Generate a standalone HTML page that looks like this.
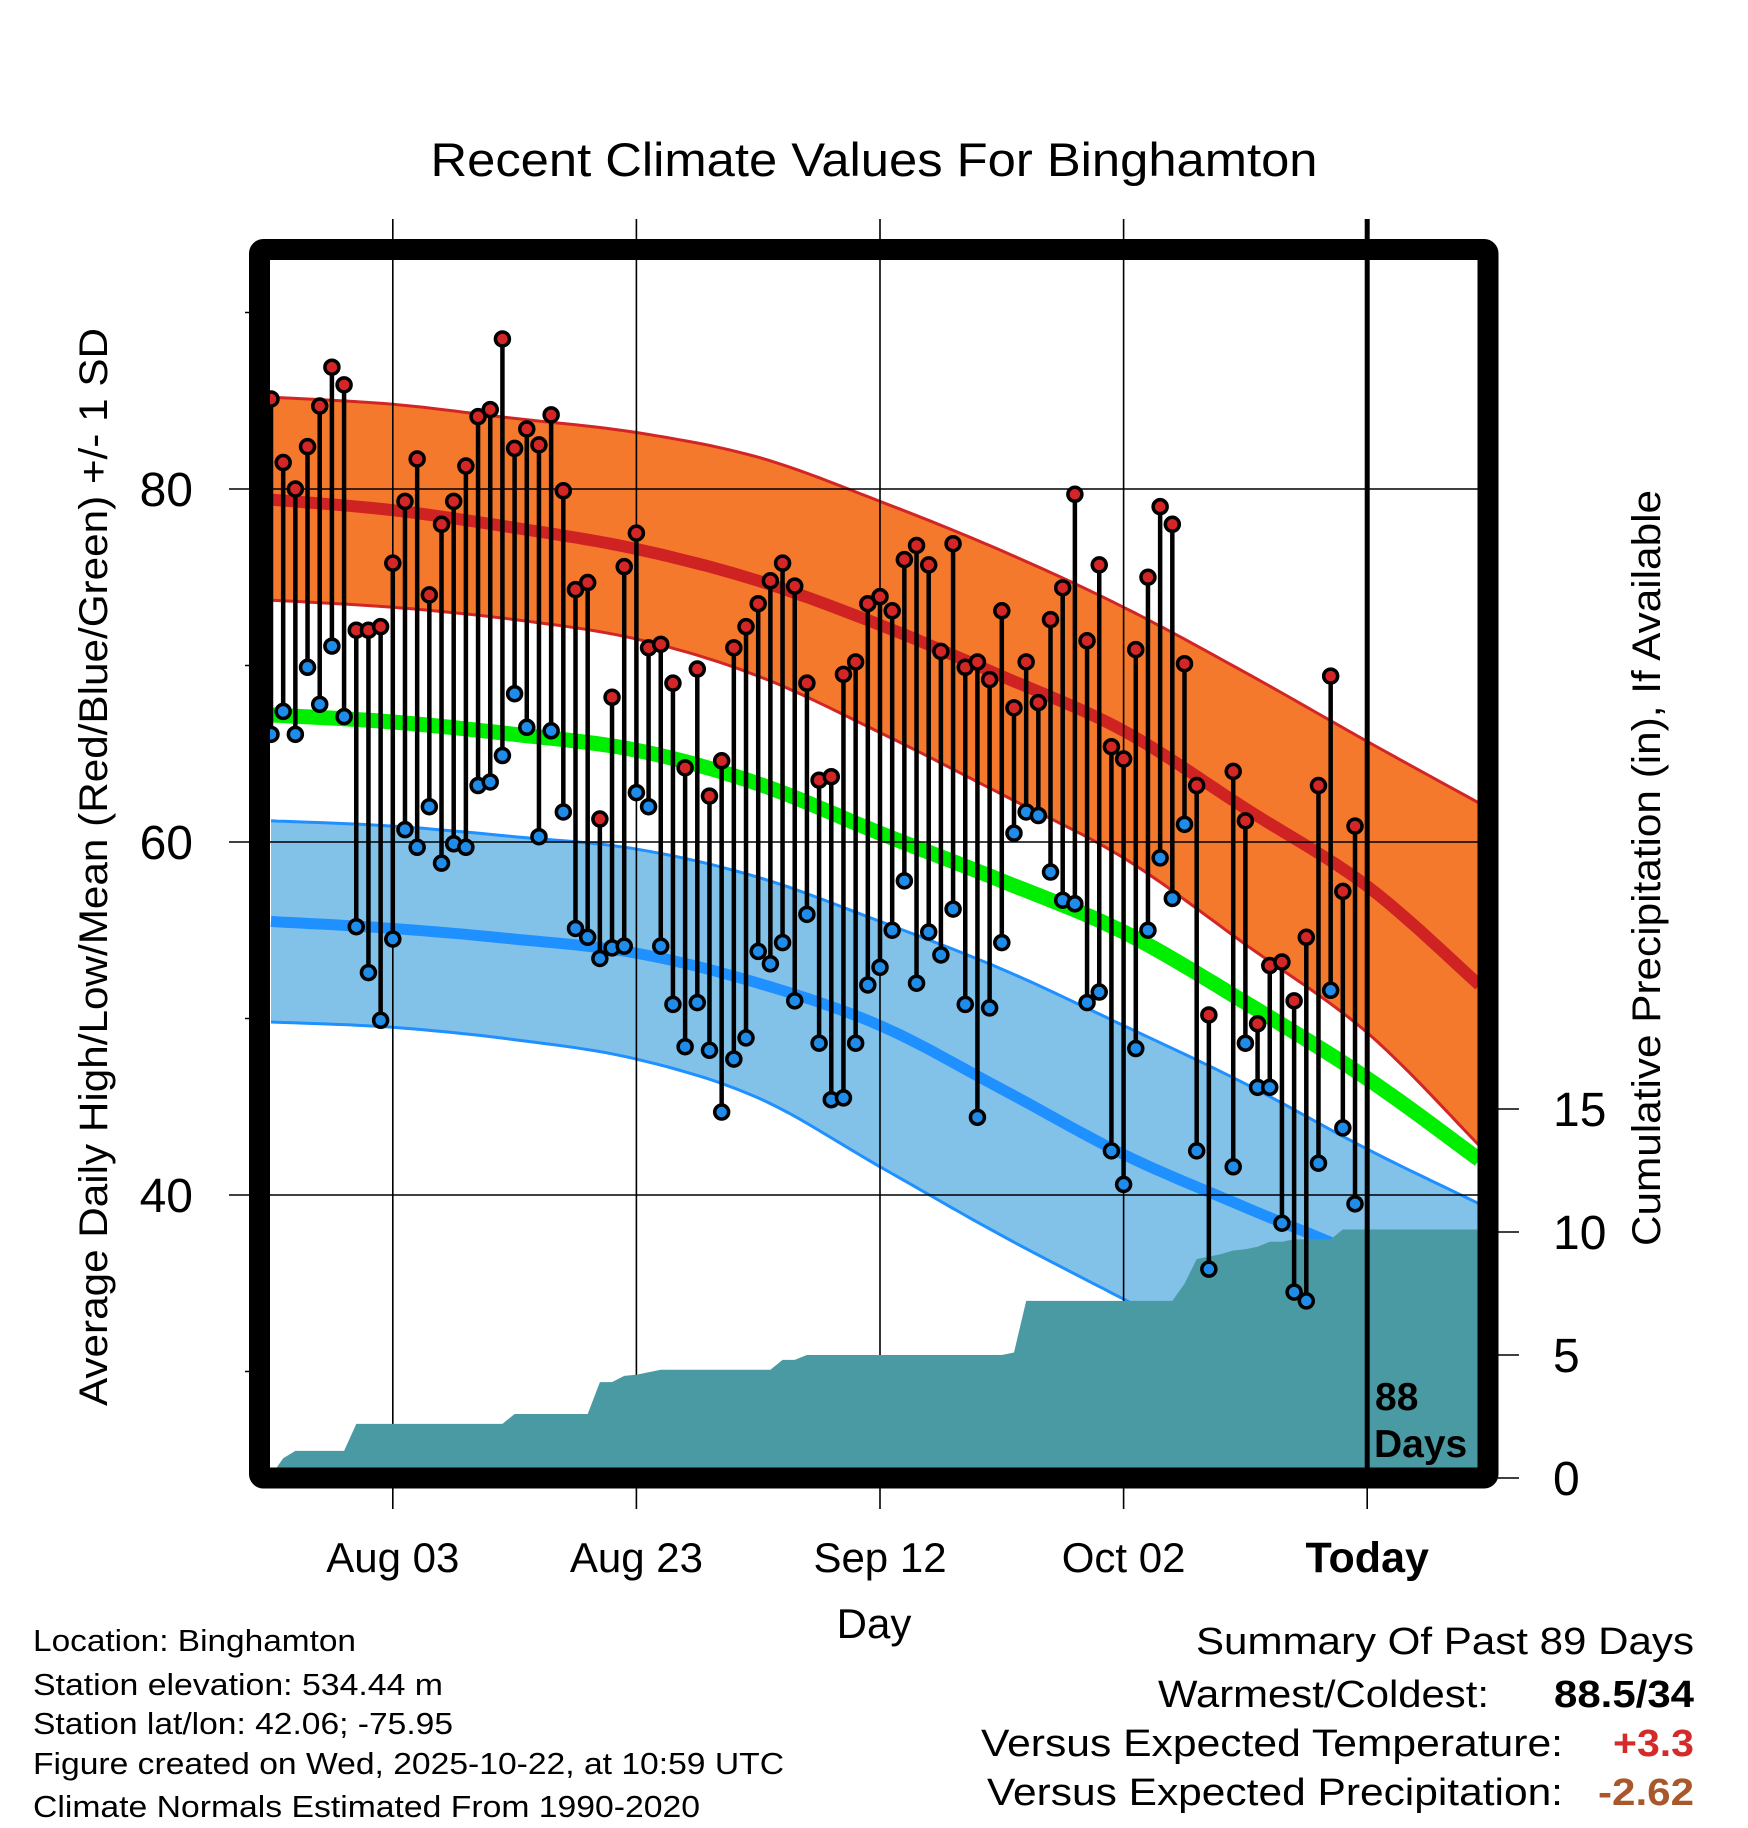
<!DOCTYPE html>
<html><head><meta charset="utf-8">
<style>
html,body{margin:0;padding:0;background:#fff;}
svg{display:block;font-family:"Liberation Sans",Arial,sans-serif;}
</style></head>
<body>
<svg id="chart" width="1748" height="1828" viewBox="0 0 1748 1828" xmlns="http://www.w3.org/2000/svg">
<defs><clipPath id="plotclip"><rect x="270" y="260" width="1208" height="1208"/></clipPath></defs>
<text x="874" y="176" text-anchor="middle" font-size="47" textLength="887" lengthAdjust="spacingAndGlyphs">Recent Climate Values For Binghamton</text>
<g id="bands" clip-path="url(#plotclip)"></g>
<g id="grid"></g>
<g id="precip" clip-path="url(#plotclip)"></g>
<g id="points"></g>
<g id="axes"></g>
<text transform="translate(107,867) rotate(-90)" text-anchor="middle" font-size="40" textLength="1078" lengthAdjust="spacingAndGlyphs">Average Daily High/Low/Mean (Red/Blue/Green) +/- 1 SD</text>
<text transform="translate(1660,868) rotate(-90)" text-anchor="middle" font-size="40" textLength="756" lengthAdjust="spacingAndGlyphs">Cumulative Precipitation (in), If Available</text>
<text x="874" y="1638" text-anchor="middle" font-size="42">Day</text>
<g font-size="31">
<text x="33" y="1651" textLength="323" lengthAdjust="spacingAndGlyphs">Location: Binghamton</text>
<text x="33" y="1695" textLength="410" lengthAdjust="spacingAndGlyphs">Station elevation: 534.44 m</text>
<text x="33" y="1734" textLength="420" lengthAdjust="spacingAndGlyphs">Station lat/lon: 42.06; -75.95</text>
<text x="33" y="1774" textLength="751" lengthAdjust="spacingAndGlyphs">Figure created on Wed, 2025-10-22, at 10:59 UTC</text>
<text x="33" y="1817" textLength="667" lengthAdjust="spacingAndGlyphs">Climate Normals Estimated From 1990-2020</text>
</g>
<g font-size="38" text-anchor="end">
<text x="1694" y="1654" textLength="498" lengthAdjust="spacingAndGlyphs">Summary Of Past 89 Days</text>
<text x="1489" y="1707" textLength="331" lengthAdjust="spacingAndGlyphs">Warmest/Coldest:</text>
<text x="1694" y="1707" font-weight="bold" textLength="140" lengthAdjust="spacingAndGlyphs">88.5/34</text>
<text x="1563" y="1756" textLength="582" lengthAdjust="spacingAndGlyphs">Versus Expected Temperature:</text>
<text x="1694" y="1756" font-weight="bold" fill="#d42a2a" textLength="81" lengthAdjust="spacingAndGlyphs">+3.3</text>
<text x="1563" y="1805" textLength="576" lengthAdjust="spacingAndGlyphs">Versus Expected Precipitation:</text>
<text x="1694" y="1805" font-weight="bold" fill="#a8582a" textLength="96" lengthAdjust="spacingAndGlyphs">-2.62</text>
</g>
</svg>
<script>
// ---- data ----
const highs = [85.1,81.5,80.0,82.4,84.7,86.9,85.9,72.0,72.0,72.2,75.8,79.3,81.7,74.0,78.0,79.3,81.3,84.1,84.5,88.5,82.3,83.4,82.5,84.2,79.9,74.3,74.7,61.3,68.2,75.6,77.5,71.0,71.2,69.0,64.2,69.8,62.6,64.6,71.0,72.2,73.5,74.8,75.8,74.5,69.0,63.5,63.7,69.5,70.2,73.5,73.9,73.1,76.0,76.8,75.7,70.8,76.9,69.9,70.2,69.2,73.1,67.6,70.2,67.9,72.6,74.4,79.7,71.4,75.7,65.4,64.7,70.9,75.0,79.0,78.0,70.1,63.2,50.2,null,64.0,61.2,49.7,53.0,53.2,51.0,54.6,63.2,69.4,57.2,60.9];
const lows = [66.1,67.4,66.1,69.9,67.8,71.1,67.1,55.2,52.6,49.9,54.5,60.7,59.7,62.0,58.8,59.9,59.7,63.2,63.4,64.9,68.4,66.5,60.3,66.3,61.7,55.1,54.6,53.4,54.0,54.1,62.8,62.0,54.1,50.8,48.4,50.9,48.2,44.7,47.7,48.9,53.8,53.1,54.3,51.0,55.9,48.6,45.4,45.5,48.6,51.9,52.9,55.0,57.8,52.0,54.9,53.6,56.2,50.8,44.4,50.6,54.3,60.5,61.7,61.5,58.3,56.7,56.5,50.9,51.5,42.5,40.6,48.3,55.0,59.1,56.8,61.0,42.5,35.8,null,41.6,48.6,46.1,46.1,38.4,34.5,34.0,41.8,51.6,43.8,39.5];
const precipCum = [0.1,0.8,1.1,1.1,1.1,1.1,1.1,2.2,2.2,2.2,2.2,2.2,2.2,2.2,2.2,2.2,2.2,2.2,2.2,2.2,2.6,2.6,2.6,2.6,2.6,2.6,2.6,3.9,3.9,4.15,4.2,4.3,4.4,4.4,4.4,4.4,4.4,4.4,4.4,4.4,4.4,4.4,4.8,4.8,5.0,5.0,5.0,5.0,5.0,5.0,5.0,5.0,5.0,5.0,5.0,5.0,5.0,5.0,5.0,5.0,5.0,5.1,7.2,7.2,7.2,7.2,7.2,7.2,7.2,7.2,7.2,7.2,7.2,7.2,7.2,7.9,8.9,9.0,9.1,9.25,9.3,9.4,9.6,9.6,9.7,9.7,9.7,9.7,10.1,10.1];
const normDays = [0,10,20,30,40,50,60,70,80,90,99.2];
const hiUpper = [85.2,84.8,84.0,83.2,81.8,79.3,76.5,73.3,69.6,65.7,62.2];
const hiMean  = [79.4,78.8,77.8,76.6,74.8,72.3,69.4,66.3,61.9,57.5,51.9];
const hiLower = [73.7,73.3,72.6,71.5,69.4,66.2,62.7,59.1,54.2,49.2,42.8];
const avgMean = [67.2,66.8,66.1,65.2,63.3,60.5,57.8,54.9,50.9,46.6,42.0];
const loUpper = [61.2,60.9,60.3,59.6,58.0,55.5,52.8,49.6,46.3,42.6,39.5];
const loMean  = [55.5,55.1,54.5,53.7,52.0,49.6,46.0,42.3,39.3,36.4,33.0];
const loLower = [49.8,49.5,48.8,47.7,45.5,41.6,37.7,34.1,30.5,27.0,23.5];
const xTickDays = [10,30,50,70,90];
const xTickLabels = ["Aug 03","Aug 23","Sep 12","Oct 02","Today"];
const yTicks = [40,60,80];
const yMinor = [30,50,70,90];
const pTicks = [0,5,10,15];
// ---- scales ----
const X = d => 271 + 12.18*d;
const Y = t => 489 - (t-80)*17.65;
const P = p => 1478 - p*24.6;
const NS = "http://www.w3.org/2000/svg";
function mk(tag, attrs, parent){const e=document.createElementNS(NS,tag);for(const k in attrs)e.setAttribute(k,attrs[k]);parent.appendChild(e);return e;}
const bands=document.getElementById('bands'), grid=document.getElementById('grid'), prec=document.getElementById('precip'), pts=document.getElementById('points'), axes=document.getElementById('axes');
// smooth curve through normal points (Catmull-Rom)
function smoothPts(arr){
  const p=normDays.map((d,i)=>[X(d),Y(arr[i])]);const out=[];
  for(let i=0;i<p.length-1;i++){
    const p0=p[Math.max(0,i-1)],p1=p[i],p2=p[i+1],p3=p[Math.min(p.length-1,i+2)];
    for(let s=0;s<12;s++){const t=s/12,t2=t*t,t3=t2*t;
      const f=k=>0.5*((2*p1[k])+(-p0[k]+p2[k])*t+(2*p0[k]-5*p1[k]+4*p2[k]-p3[k])*t2+(-p0[k]+3*p1[k]-3*p2[k]+p3[k])*t3);
      out.push(f(0).toFixed(1)+','+f(1).toFixed(1));}
  }
  const l=p[p.length-1];out.push(l[0].toFixed(1)+','+l[1].toFixed(1));return out;
}
function bandPath(up,lo){const a=smoothPts(up), b=smoothPts(lo).reverse();return 'M'+a.join(' L')+' L'+b.join(' L')+' Z';}
let e;
e=mk('path',{d:bandPath(hiUpper,hiLower),fill:'#f4792c'},bands);


e=mk('path',{d:bandPath(loUpper,loLower),fill:'#82c1e8'},bands);


const lines=[[hiUpper,'#d22626',3,'high-upper-line'],[hiLower,'#d22626',3,'high-lower-line'],[hiMean,'#cf2222',12,'high-normal-line'],[avgMean,'#00ee00',15,'mean-normal-line'],[loUpper,'#1e90ff',3,'low-upper-line'],[loLower,'#1e90ff',3,'low-lower-line'],[loMean,'#1e90ff',11,'low-normal-line']];
lines.forEach(l=>{e=mk('polyline',{points:smoothPts(l[0]).join(' '),fill:'none',stroke:l[1],'stroke-width':l[2]},bands);

});
// grid
yTicks.forEach(t=>{e=mk('line',{x1:229,x2:1488,y1:Y(t),y2:Y(t),stroke:'#000','stroke-width':1.6},grid);


e=mk('text',{x:193,y:Y(t)+17,'text-anchor':'end','font-size':48},axes);e.textContent=t;

});
yMinor.forEach(t=>{e=mk('line',{x1:245,x2:262,y1:Y(t),y2:Y(t),stroke:'#000','stroke-width':1.6},axes);

});
xTickDays.forEach((d,i)=>{
 if(i<4){e=mk('line',{x1:X(d),x2:X(d),y1:219,y2:1509,stroke:'#000','stroke-width':1.6},grid);
 
 }
 else{e=mk('line',{x1:X(d),x2:X(d),y1:1478,y2:1509,stroke:'#000','stroke-width':1.6},axes);
 
 }
 e=mk('text',{x:X(d),y:1572,'text-anchor':'middle','font-size':i==4?43:42,'font-weight':i==4?'bold':'normal'},axes);e.textContent=xTickLabels[i];
 
 
});
// precip
let pd='M'+X(0)+','+P(0);
precipCum.forEach((v,i)=>{if(v!=null)pd+=' L'+X(i).toFixed(1)+','+P(v).toFixed(1);});
pd+=' L1480,'+P(precipCum[precipCum.length-1]).toFixed(1)+' L1480,1480 L'+X(0)+',1480 Z';
e=mk('path',{d:pd,fill:'#4a9aa3'},prec);


// today line
e=mk('line',{x1:X(90),x2:X(90),y1:219,y2:1478,stroke:'#000','stroke-width':5},pts);


// points
highs.forEach((h,i)=>{const l=lows[i];if(h==null||l==null)return;
 e=mk('line',{x1:X(i),x2:X(i),y1:Y(h),y2:Y(l),stroke:'#000','stroke-width':4.5},pts);
 
 });
highs.forEach((h,i)=>{const l=lows[i];if(h==null||l==null)return;
 e=mk('circle',{cx:X(i),cy:Y(h),r:7,fill:'#d42626',stroke:'#000','stroke-width':3.5},pts);
 
 
 e=mk('circle',{cx:X(i),cy:Y(l),r:7,fill:'#1e8ce8',stroke:'#000','stroke-width':3.5},pts);
 
 });
// 88 days
e=mk('text',{x:1375,y:1410,'font-size':39,'font-weight':'bold'},pts);e.textContent='88';


e=mk('text',{x:1374,y:1457,'font-size':39,'font-weight':'bold'},pts);e.textContent='Days';


// frame
e=mk('rect',{x:259.5,y:249.5,width:1228.5,height:1228.5,fill:'none',stroke:'#000','stroke-width':21,rx:4},axes);


// right axis
pTicks.forEach(p=>{e=mk('line',{x1:1498,x2:1519,y1:P(p),y2:P(p),stroke:'#000','stroke-width':1.6},axes);
 
 
 e=mk('text',{x:1553,y:P(p)+17,'font-size':48},axes);e.textContent=p;
 
 });
</script>
</body></html>
